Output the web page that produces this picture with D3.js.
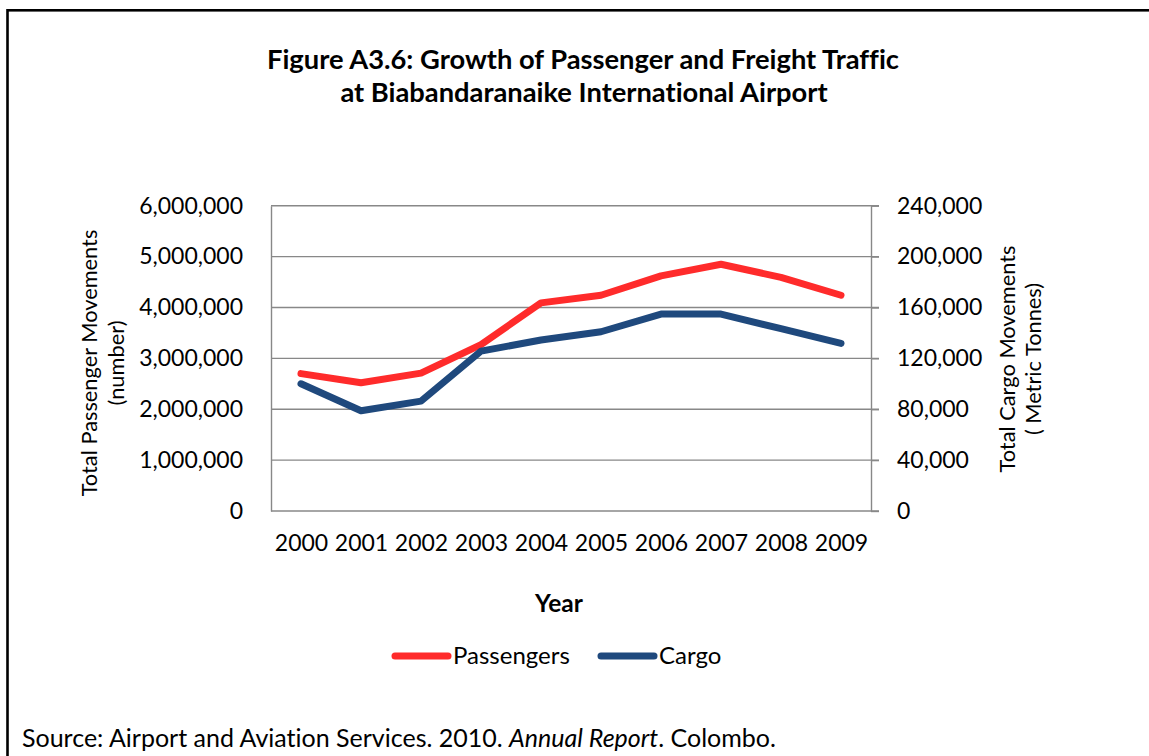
<!DOCTYPE html>
<html>
<head>
<meta charset="utf-8">
<script src="https://cdn.jsdelivr.net/npm/d3@7"></script>
<style>
  body { margin: 0; background: #fff; }
  svg text { font-family: Lato, "Open Sans", sans-serif; fill: #000; font-variant-ligatures: none; font-feature-settings: "liga" 0, "dlig" 0; }
</style>
</head>
<body>
<svg id="chart"></svg>
<script>
// data
const years = ["2000", "2001", "2002", "2003", "2004", "2005", "2006", "2007", "2008", "2009"];
const passengers = [2700000, 2520000, 2710000, 3270000, 4090000, 4240000, 4620000, 4850000, 4590000, 4240000];
const cargo = [100000, 78800, 86400, 125700, 134400, 140900, 154800, 154800, 143300, 131800];
const passengerTicks = [0, 1000000, 2000000, 3000000, 4000000, 5000000, 6000000];
const cargoTicks = [0, 40000, 80000, 120000, 160000, 200000, 240000];

const width = 1149, height = 756;
const plot = { left: 271, right: 871, top: 205.7, bottom: 511 };
const red = "#ff2b2b", blue = "#1f497d", grid = "#888888";
const fs = 23;

const svg = d3.select("#chart")
    .attr("width", width)
    .attr("height", height);

// frame round the figure (open to the right and bottom)
svg.append("rect")
    .attr("x", 7.5).attr("y", 10.3)
    .attr("width", 1300).attr("height", 900)
    .attr("fill", "none")
    .attr("stroke", "#000")
    .attr("stroke-width", 2.6);

// title
const title = svg.append("text")
    .attr("text-anchor", "middle")
    .attr("font-size", 27.3)
    .attr("font-weight", "bold");
title.append("tspan").attr("x", 583).attr("y", 69)
    .text("Figure A3.6: Growth of Passenger and Freight Traffic");
title.append("tspan").attr("x", 584).attr("y", 102)
    .text("at Biabandaranaike International Airport");

// scales
const x = d3.scalePoint().domain(years).range([plot.left, plot.right]).padding(0.5);
const yL = d3.scaleLinear().domain([0, 6000000]).range([plot.bottom, plot.top]);
const yR = d3.scaleLinear().domain([0, 240000]).range([plot.bottom, plot.top]);

// gridlines
svg.append("g")
    .selectAll("line")
    .data(passengerTicks)
    .enter()
    .append("line")
    .attr("x1", plot.left)
    .attr("x2", plot.right + 8)
    .attr("y1", d => yL(d))
    .attr("y2", d => yL(d))
    .attr("stroke", grid)
    .attr("stroke-width", 1.4);

// left axis
const leftAxis = svg.append("g")
    .attr("transform", "translate(" + plot.left + ",0)")
    .call(d3.axisLeft(yL).tickValues(passengerTicks).tickSize(0).tickPadding(28).tickFormat(d3.format(",")));
leftAxis.select(".domain").attr("stroke", grid).attr("stroke-width", 1.4);
leftAxis.selectAll("text").attr("font-size", fs).attr("fill", "#000");

// right axis
const rightAxis = svg.append("g")
    .attr("transform", "translate(" + plot.right + ",0)")
    .call(d3.axisRight(yR).tickValues(cargoTicks).tickSize(8).tickSizeOuter(0).tickPadding(18).tickFormat(d3.format(",")));
rightAxis.select(".domain").attr("stroke", grid).attr("stroke-width", 1.4);
rightAxis.selectAll(".tick line").attr("stroke", grid).attr("stroke-width", 1.4);
rightAxis.selectAll("text").attr("font-size", fs).attr("fill", "#000");

// bottom axis labels
const bottomAxis = svg.append("g")
    .attr("transform", "translate(0," + plot.bottom + ")")
    .call(d3.axisBottom(x).tickSize(0).tickPadding(24));
bottomAxis.select(".domain").remove();
bottomAxis.selectAll("text").attr("font-size", fs).attr("fill", "#000");

// axis titles
svg.append("text")
    .attr("x", 559).attr("y", 612)
    .attr("text-anchor", "middle")
    .attr("font-size", 24.5)
    .attr("font-weight", "bold")
    .text("Year");

const leftTitle = svg.append("text")
    .attr("transform", "translate(0,363) rotate(-90)")
    .attr("text-anchor", "middle")
    .attr("font-size", 21.8);
leftTitle.append("tspan").attr("x", 0).attr("y", 97).text("Total Passenger Movements");
leftTitle.append("tspan").attr("x", 0).attr("y", 124).text("(number)");

const rightTitle = svg.append("text")
    .attr("transform", "translate(0,359) rotate(-90)")
    .attr("text-anchor", "middle")
    .attr("font-size", 21.8);
rightTitle.append("tspan").attr("x", 0).attr("y", 1015).text("Total Cargo Movements");
rightTitle.append("tspan").attr("x", 0).attr("y", 1041).text("( Metric Tonnes)");

// lines
const line = d3.line()
    .x((d, i) => x(years[i]));

svg.append("path")
    .datum(passengers)
    .attr("d", line.y(d => yL(d)))
    .attr("fill", "none")
    .attr("stroke", red)
    .attr("stroke-width", 7)
    .attr("stroke-linecap", "round")
    .attr("stroke-linejoin", "round");

svg.append("path")
    .datum(cargo)
    .attr("d", line.y(d => yR(d)))
    .attr("fill", "none")
    .attr("stroke", blue)
    .attr("stroke-width", 7)
    .attr("stroke-linecap", "round")
    .attr("stroke-linejoin", "round");

// legend
const legend = [
    { name: "Passengers", color: red, x: 392 },
    { name: "Cargo", color: blue, x: 598 }
];
const lg = svg.append("g").selectAll("g")
    .data(legend)
    .enter()
    .append("g")
    .attr("transform", d => "translate(" + d.x + ",656)");
lg.append("line")
    .attr("x1", 3).attr("x2", 56)
    .attr("stroke", d => d.color)
    .attr("stroke-width", 7)
    .attr("stroke-linecap", "round");
lg.append("text")
    .attr("x", 61).attr("y", 8)
    .attr("font-size", 24)
    .text(d => d.name);

// source note
const src = svg.append("text")
    .attr("x", 22).attr("y", 747)
    .attr("font-size", 25);
src.append("tspan").text("Source: Airport and Aviation Services. 2010. ");
src.append("tspan").attr("font-style", "italic").text("Annual Report");
src.append("tspan").text(". Colombo.");
</script>
</body>
</html>
